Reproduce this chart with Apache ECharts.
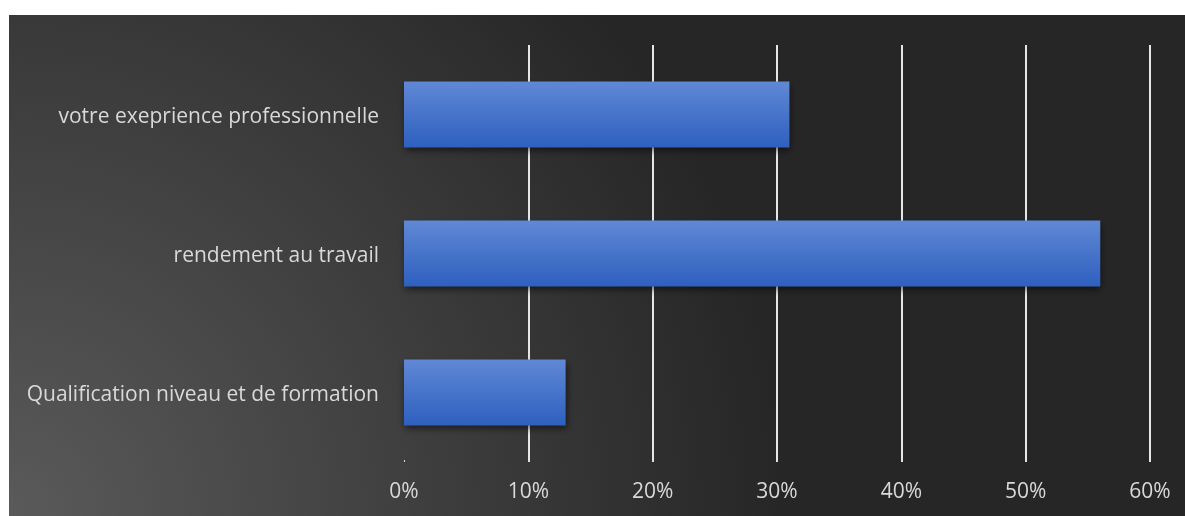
<!DOCTYPE html>
<html>
<head>
<meta charset="utf-8">
<script src="https://cdn.jsdelivr.net/npm/echarts@6/dist/echarts.min.js"></script>
<style>
html,body{margin:0;padding:0;background:#fff;width:1185px;height:516px;overflow:hidden;}
#c{position:absolute;left:9px;top:15px;width:1176px;height:501px;}
</style>
</head>
<body>
<div id="c"></div>
<script>
const categories = ["votre exeprience professionnelle", "rendement au travail", "Qualification niveau et de formation"];
const values = [0.31, 0.56, 0.13];
const tickLabels = ["0%", "10%", "20%", "30%", "40%", "50%", "60%"];

const chart = echarts.init(document.getElementById('c'), null, {renderer: 'canvas'});
chart.setOption({
  animation: false,
  backgroundColor: {
    type: 'radial', x: 0, y: 1, r: 1.55,
    colorStops: [{offset: 0, color: '#5a5a5a'}, {offset: 1, color: '#262626'}]
  },
  grid: {left: 395, right: 35, top: 30, bottom: 54, containLabel: false},
  xAxis: {
    type: 'value', min: 0, max: 0.6, interval: 0.1,
    axisLine: {show: false},
    axisTick: {show: true, inside: true, length: 2, lineStyle: {color: '#d9d9d9', width: 1}},
    axisLabel: {
      color: '#d9d9d9', fontSize: 21, fontFamily: 'Open Sans', margin: 20,
      formatter: function (v) { return tickLabels[Math.round(v * 10)]; }
    },
    splitLine: {show: true, showMinLine: false, lineStyle: {color: '#e6e6e6', width: 2}}
  },
  yAxis: {
    type: 'category', data: categories, inverse: true,
    axisLine: {show: false}, axisTick: {show: false},
    axisLabel: {
      color: '#d9d9d9', fontSize: 21, fontFamily: 'Open Sans', margin: 25,
      formatter: function (v) { return '{a|' + v + '}'; },
      rich: {a: {color: '#d9d9d9', fontSize: 21, fontFamily: 'Open Sans', padding: [5, 0, 0, 0]}}
    },
    splitLine: {show: false}
  },
  series: [{
    type: 'bar', data: values, barWidth: 66,
    itemStyle: {
      color: {type: 'linear', x: 0, y: 0, x2: 0, y2: 1,
        colorStops: [{offset: 0, color: '#6088d5'}, {offset: 1, color: '#2e60bf'}]},
      shadowBlur: 7, shadowOffsetY: 3, shadowOffsetX: 1, shadowColor: 'rgba(0,0,0,0.55)'
    }
  }]
});
</script>
</body>
</html>
